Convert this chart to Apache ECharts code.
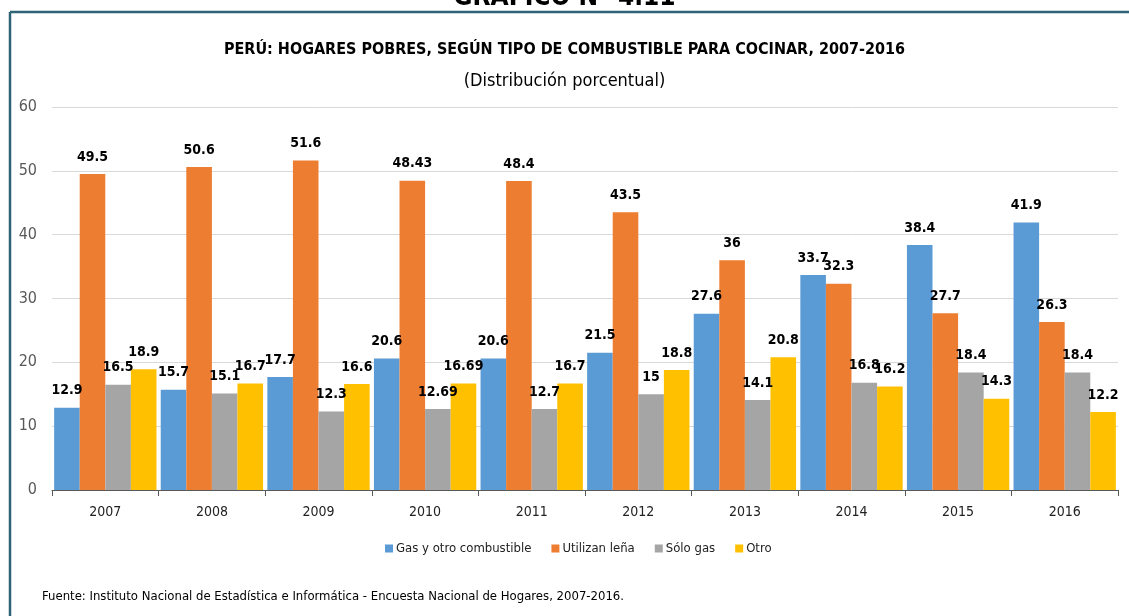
<!DOCTYPE html>
<html>
<head>
<meta charset="utf-8">
<script src="https://cdn.jsdelivr.net/npm/echarts@6/dist/echarts.min.js"></script>
<style>
  html, body { margin: 0; padding: 0; background: #fff; }
  #chart { width: 1129px; height: 616px; }
</style>
</head>
<body>
<div id="chart"></div>
<script>
// Años (categorías)
const years = ['2007', '2008', '2009', '2010', '2011', '2012', '2013', '2014', '2015', '2016']

// Distribución porcentual por tipo de combustible
const gasYOtro = [12.9, 15.7, 17.7, 20.6, 20.6, 21.5, 27.6, 33.7, 38.4, 41.9]
const utilizanLena = [49.5, 50.6, 51.6, 48.43, 48.4, 43.5, 36, 32.3, 27.7, 26.3]
const soloGas = [16.5, 15.1, 12.3, 12.69, 12.7, 15, 14.1, 16.8, 18.4, 18.4]
const otro = [18.9, 16.7, 16.6, 16.69, 16.7, 18.8, 20.8, 16.2, 14.3, 12.2]

const seriesNames = ['Gas y otro combustible', 'Utilizan leña', 'Sólo gas', 'Otro']
const colors = ['#5b9bd5', '#ed7d31', '#a5a5a5', '#ffc000']

const FONT = '"Liberation Sans Narrow", "DejaVu Sans Condensed", "Noto Sans", sans-serif'

const chart = echarts.init(document.getElementById('chart'))

const mkBar = (name, data, color) => ({
  name, type: 'bar', data,
  itemStyle: { color },
  barGap: '0%', barCategoryGap: '4%',
  label: {
    show: true, position: 'top', distance: 10,
    color: '#000', fontFamily: FONT, fontWeight: 'bold', fontSize: 14
  }
})

chart.setOption({
  backgroundColor: '#fff',
  animation: false,
  title: [
    // encabezado cortado en la parte superior de la imagen original
    { text: 'GRÁFICO N° 4.11', left: 'center', top: -15, padding: 0,
      textStyle: { fontFamily: FONT, fontWeight: 'bold', fontSize: 26, color: '#000' } },
    { text: 'PERÚ: HOGARES POBRES, SEGÚN TIPO DE COMBUSTIBLE PARA COCINAR, 2007-2016',
      left: 'center', top: 37,
      textStyle: { fontFamily: FONT, fontWeight: 'bold', fontSize: 16, color: '#000' } },
    { text: '(Distribución porcentual)', left: 'center', top: 67,
      textStyle: { fontFamily: FONT, fontWeight: 'normal', fontSize: 18, color: '#000' } },
    { text: 'Fuente: Instituto Nacional de Estadística e Informática - Encuesta Nacional de Hogares, 2007-2016.',
      left: 37, top: 585,
      textStyle: { fontFamily: FONT, fontWeight: 'normal', fontSize: 13, color: '#000' } }
  ],
  graphic: [
    { type: 'line', shape: { x1: 10, y1: 12, x2: 1129, y2: 12 },
      style: { stroke: '#2d6577', lineWidth: 2.5 }, silent: true },
    { type: 'line', shape: { x1: 10, y1: 12, x2: 10, y2: 616 },
      style: { stroke: '#2d6577', lineWidth: 2.5 }, silent: true }
  ],
  legend: {
    data: seriesNames, bottom: 56, left: 380,
    icon: 'rect', itemWidth: 8, itemHeight: 8, itemGap: 20,
    textStyle: { fontFamily: FONT, fontSize: 13, color: '#222', padding: [0, 0, 0, -2] }
  },
  grid: { left: 52, right: 11, top: 107, bottom: 126 },
  xAxis: {
    type: 'category', data: years,
    axisLine: { lineStyle: { color: '#595959', width: 1 } },
    axisTick: { show: true, length: 6, lineStyle: { color: '#595959' } },
    axisLabel: { fontFamily: FONT, fontSize: 14, color: '#222', margin: 15 }
  },
  yAxis: {
    type: 'value', min: 0, max: 60, interval: 10,
    axisLine: { show: false }, axisTick: { show: false },
    axisLabel: { fontFamily: FONT, fontSize: 16, color: '#595959', margin: 15 },
    splitLine: { lineStyle: { color: '#d9d9d9', width: 1 } }
  },
  series: [
    mkBar(seriesNames[0], gasYOtro, colors[0]),
    mkBar(seriesNames[1], utilizanLena, colors[1]),
    mkBar(seriesNames[2], soloGas, colors[2]),
    mkBar(seriesNames[3], otro, colors[3])
  ]
})
</script>
</body>
</html>
